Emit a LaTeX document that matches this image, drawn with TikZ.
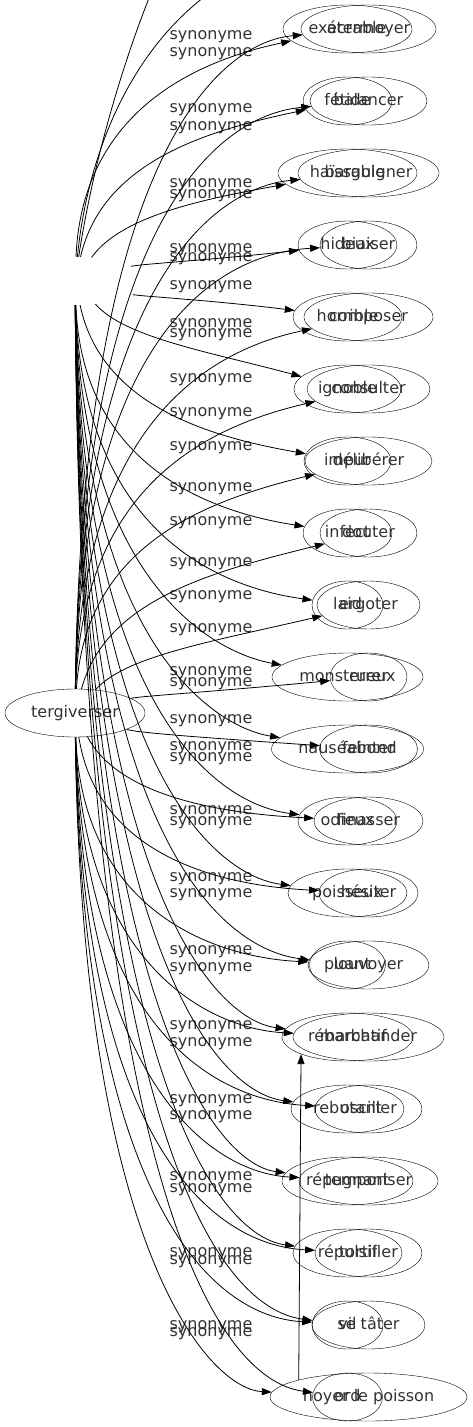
\documentclass[tikz,border=0pt]{standalone}
\usepackage{fontspec}
\setmainfont{DejaVu Sans}
\usetikzlibrary{arrows.meta, shapes.geometric}
\begin{document}
\begin{tikzpicture}[
    x=1pt, y=-1pt,
    word/.style={ellipse, draw, minimum height=48, inner sep=0pt, text height=12pt, text depth=4pt, text=black!80, font=\fontsize{16}{19}\selectfont},
    syn/.style={inner sep=0pt, text height=12pt, text depth=4pt, text=black!80, font=\fontsize{16}{19}\selectfont},
    arrow/.style={-{Triangle[length=10pt, width=7pt]}, line width=0.8pt}
]
\useasboundingbox (0,0) rectangle (473,1427);
\clip (0,0) rectangle (473,1427);

\node[word, minimum width=140] (terg) at (75,713) {tergiverser};
\node[ellipse, minimum width=140, minimum height=48] (hub) at (75,281) {};

\foreach \w/\d [count=\i] in {exécrable/129, fétide/89, haïssable/139, hideux/99, horrible/109, ignoble/107, impur/87, infect/89, laid/71, monstrueux/151, nauséabond/152, odieux/99, poisseux/119, puant/76, rébarbatif/131, rebutant/113, répugnant/131, répulsif/109, vil/71, ord/70}
  \node[word, minimum width=\d] (h\i) at (347.5,{29+72*(\i-1)}) {\w};

\foreach \w/\d [count=\i] in {atermoyer/135, balancer/117, barguigner/141, biaiser/97, composer/129, consulter/123, délibérer/127, douter/97, ergoter/103, errer/77, feinter/98, finasser/109, hésiter/99, louvoyer/121, marchander/151, osciller/107, temporiser/139, tortiller/107, se tâter/113, noyer le poisson/197}
  \node[word, minimum width=\d] (t\i) at (368.5,{29+72*(\i-1)}) {\w};

\foreach \y [count=\k] in {35,52,108,126,183,194,248,257,285,323,333,378,412,446,487,521,562,595,628,671,682,719,746,757,810,821,877,893,950,967,1025,1042,1099,1115,1176,1188,1252,1260,1325,1332}
  \node[syn] (syn\k) at (211,\y) {synonyme};

\foreach \i/\yw in {1/58, 2/130, 3/198, 4/260, 5/300, 6/352, 7/437, 8/512, 9/586, 10/652, 11/726, 12/803, 13/875, 14/947, 15/1019, 16/1091, 17/1163, 18/1235, 19/1307, 20/1379}
  \draw[arrow] (hub) .. controls ({75+70*max(0.1,1-abs(\yw-281)/250)},{281+0.8*(\yw-281)}) and (210,\yw) .. (h\i);

\foreach \i/\yw in {1/43, 2/116, 3/188, 4/254, 5/350, 6/426, 7/500, 8/572, 9/642, 10/692, 11/738, 12/813, 13/885, 14/957, 15/1029, 16/1100, 17/1173, 18/1245, 19/1317, 20/1389}
  \draw[arrow] (terg) .. controls ({75+70*max(0.1,1-abs(\yw-713)/250)},{713+0.8*(\yw-713)}) and (210,\yw) .. (t\i);

\coordinate (upA) at (165,-40);
\coordinate (upB) at (270,-40);
\draw[arrow] (hub) .. controls (95,150) and (130,40) .. (upA);
\draw[arrow] (hub) .. controls (90,130) and (150,10) .. (upB);
\draw[arrow] (t20.north west) -- (h15.south west);

\end{tikzpicture}
\end{document}
